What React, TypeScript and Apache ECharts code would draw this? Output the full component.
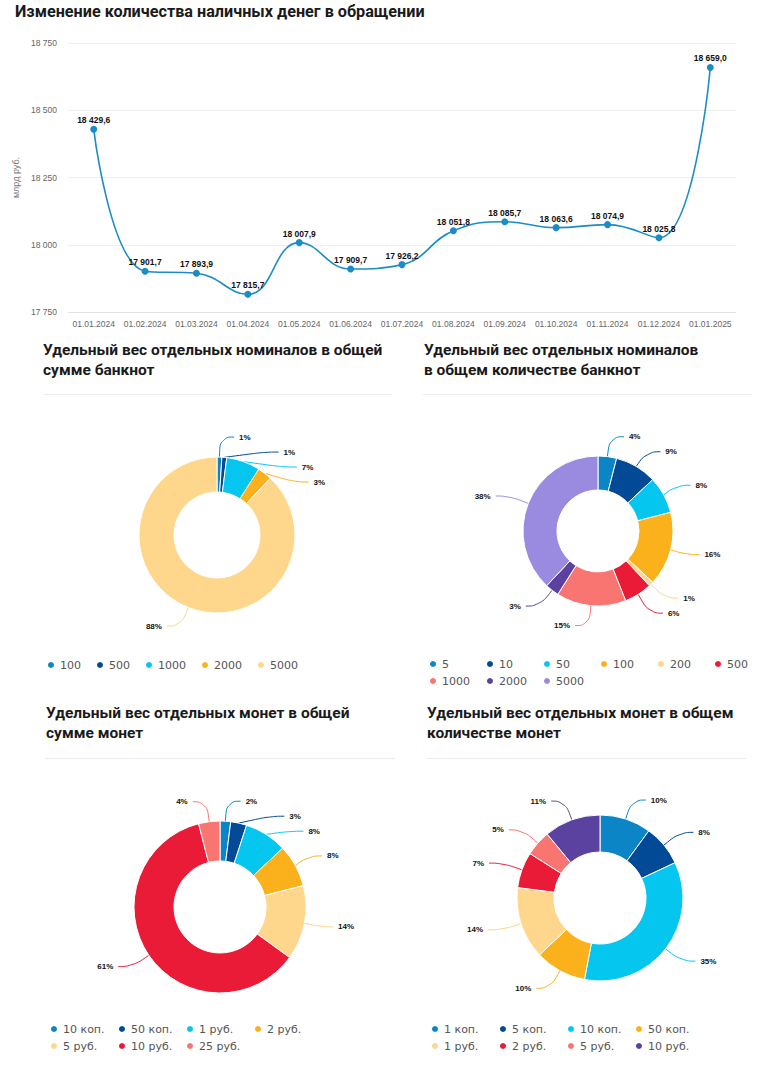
import React, { useEffect, useRef } from "react";
import * as echarts from "echarts";

// ---------- DATA ----------
const lineDates = [
  "01.01.2024", "01.02.2024", "01.03.2024", "01.04.2024", "01.05.2024", "01.06.2024",
  "01.07.2024", "01.08.2024", "01.09.2024", "01.10.2024", "01.11.2024", "01.12.2024", "01.01.2025",
];
const cashValues = [
  18429.6, 17901.7, 17893.9, 17815.7, 18007.9, 17909.7, 17926.2,
  18051.8, 18085.7, 18063.6, 18074.9, 18025.8, 18659.0,
];

const banknoteSumNames = ["100", "500", "1000", "2000", "5000"];
const banknoteSumValues = [1, 1, 7, 3, 88];

const banknoteCountNames = ["5", "10", "50", "100", "200", "500", "1000", "2000", "5000"];
const banknoteCountValues = [4, 9, 8, 16, 1, 6, 15, 3, 38];

const coinSumNames = ["10 коп.", "50 коп.", "1 руб.", "2 руб.", "5 руб.", "10 руб.", "25 руб."];
const coinSumValues = [2, 3, 8, 8, 14, 61, 4];

const coinCountNames = ["1 коп.", "5 коп.", "10 коп.", "50 коп.", "1 руб.", "2 руб.", "5 руб.", "10 руб."];
const coinCountValues = [10, 8, 35, 10, 14, 7, 5, 11];

// ---------- STYLES ----------
const C = {
  blue: "#0b85c6",
  navy: "#034a96",
  cyan: "#05c6ee",
  orange: "#fbb11b",
  sand: "#fed68c",
  red: "#e91b37",
  pink: "#f97572",
  purple: "#5c42a0",
  lavender: "#9b8be0",
};
const banknoteSumColors = [C.blue, C.navy, C.cyan, C.orange, C.sand];
const banknoteCountColors = [C.blue, C.navy, C.cyan, C.orange, C.sand, C.red, C.pink, C.purple, C.lavender];
const coinSumColors = [C.blue, C.navy, C.cyan, C.orange, C.sand, C.red, C.pink];
const coinCountColors = [C.blue, C.navy, C.cyan, C.orange, C.sand, C.red, C.pink, C.purple];

const TITLE_FONT = "Roboto, 'Open Sans', sans-serif";
const LABEL_FONT = "'Liberation Sans', Arial, sans-serif";

function fmtNum(v: number, digits: number): string {
  const s = v.toFixed(digits);
  const [i, f] = s.split(".");
  const g = i.replace(/\B(?=(\d{3})+(?!\d))/g, " ");
  return f !== undefined ? g + "," + f : g;
}

function Chart({ option, box }: { option: any; box: { left: number; top: number; width: number; height: number } }) {
  const ref = useRef<HTMLDivElement>(null);
  useEffect(() => {
    if (!ref.current) return;
    const chart = echarts.init(ref.current, undefined, { renderer: "svg" });
    chart.setOption(option);
    return () => chart.dispose();
  }, [option]);
  return (
    <div
      ref={ref}
      style={{ position: "absolute", left: box.left, top: box.top, width: box.width, height: box.height }}
    />
  );
}

const lineOption = {
  animation: false,
  graphic: [
    {
      type: "text",
      left: 15,
      top: 3,
      style: {
        text: "Изменение количества наличных денег в обращении",
        font: `bold 16.2px ${TITLE_FONT}`,
        fill: "#1a1a1a",
      },
    },
  ],
  grid: { left: 68, right: 22, top: 43, height: 269 },
  xAxis: {
    type: "category",
    data: lineDates,
    boundaryGap: true,
    axisLine: { show: true, lineStyle: { color: "#e2e2e2" } },
    axisTick: { show: false },
    axisLabel: { color: "#666", fontSize: 8.5, fontFamily: LABEL_FONT, margin: 7, interval: 0 },
  },
  yAxis: {
    type: "value",
    min: 17750,
    max: 18750,
    interval: 250,
    name: "млрд руб.",
    nameLocation: "middle",
    nameRotate: 90,
    nameGap: 45,
    nameTextStyle: { color: "#777", fontSize: 9, fontFamily: LABEL_FONT },
    axisLine: { show: false },
    axisTick: { show: false },
    splitLine: { lineStyle: { color: "#efefef" } },
    axisLabel: {
      color: "#666",
      fontSize: 8.5,
      fontFamily: LABEL_FONT,
      margin: 11,
      formatter: (v: number) => fmtNum(v, 0),
    },
  },
  series: [
    {
      type: "line",
      data: cashValues,
      smooth: 0.45,
      symbol: "circle",
      symbolSize: 7,
      lineStyle: { color: "#1b8dc6", width: 1.6 },
      itemStyle: { color: "#1b8dc6" },
      label: {
        show: true,
        position: "top",
        distance: 1,
        color: "#111",
        fontWeight: "bold",
        fontSize: 8.5,
        fontFamily: LABEL_FONT,
        formatter: (p: any) => fmtNum(p.value, 1),
      },
    },
  ],
};

function pieOption(cfg: {
  title: string;
  titleLeft: number;
  titleTop: number;
  sepY: number;
  sepX1: number;
  sepX2: number;
  center: [number, number];
  radius: [number, number];
  names: string[];
  values: number[];
  colors: string[];
  legendLeft: number;
  legendTop: number;
  legendWidth: number;
  legendTextWidth?: number;
  legendGap: number;
}) {
  return {
    animation: false,
    graphic: [
      {
        type: "text",
        left: cfg.titleLeft,
        top: cfg.titleTop,
        style: {
          text: cfg.title,
          font: `bold 15.5px ${TITLE_FONT}`,
          lineHeight: 20,
          fill: "#1a1a1a",
        },
      },
      {
        type: "line",
        shape: { x1: cfg.sepX1, y1: cfg.sepY, x2: cfg.sepX2, y2: cfg.sepY },
        style: { stroke: "#ececec", lineWidth: 1 },
      },
    ],
    legend: {
      left: cfg.legendLeft,
      top: cfg.legendTop,
      width: cfg.legendWidth,
      padding: 0,
      orient: "horizontal",
      icon: "circle",
      itemWidth: 8,
      itemHeight: 8,
      itemGap: cfg.legendGap,
      selectedMode: false,
      textStyle: {
        color: "#555",
        fontSize: 11,
        lineHeight: 14,
        fontFamily: "'DejaVu Sans', 'Noto Sans', sans-serif",
        fontWeight: "normal",
        ...(cfg.legendTextWidth ? { width: cfg.legendTextWidth, overflow: "none" } : {}),
      },
      data: cfg.names,
    },
    series: [
      {
        type: "pie",
        center: cfg.center,
        radius: cfg.radius,
        startAngle: 90,
        clockwise: true,
        avoidLabelOverlap: true,
        data: cfg.names.map((n, i) => ({ name: n, value: cfg.values[i], itemStyle: { color: cfg.colors[i] } })),
        itemStyle: { borderColor: "#fff", borderWidth: 1 },
        label: {
          show: true,
          position: "outside",
          color: "#111",
          fontWeight: "bold",
          fontSize: 8,
          fontFamily: LABEL_FONT,
          minMargin: 7,
          formatter: (p: any) => p.value + "%",
        },
        labelLine: { show: true, length: 20, length2: 14, smooth: 0.5, lineStyle: { width: 1 } },
        emphasis: { disabled: true },
      },
    ],
  };
}

const pie1 = pieOption({
  title: "Удельный вес отдельных номиналов в общей\nсумме банкнот",
  titleLeft: 43,
  titleTop: 10,
  sepY: 64.5,
  sepX1: 43,
  sepX2: 392,
  center: [217, 205],
  radius: [43, 78],
  names: banknoteSumNames,
  values: banknoteSumValues,
  colors: banknoteSumColors,
  legendLeft: 46,
  legendTop: 328,
  legendWidth: 320,
  legendGap: 14,
});

const pie2 = pieOption({
  title: "Удельный вес отдельных номиналов\nв общем количестве банкнот",
  titleLeft: 45,
  titleTop: 10,
  sepY: 64.5,
  sepX1: 44,
  sepX2: 373,
  center: [219, 201],
  radius: [41, 75],
  names: banknoteCountNames,
  values: banknoteCountValues,
  colors: banknoteCountColors,
  legendLeft: 49,
  legendTop: 327,
  legendWidth: 340,
  legendTextWidth: 40,
  legendGap: 3,
});

const pie3 = pieOption({
  title: "Удельный вес отдельных монет в общей\nсумме монет",
  titleLeft: 46,
  titleTop: 3,
  sepY: 58.5,
  sepX1: 45,
  sepX2: 395,
  center: [220, 207],
  radius: [46, 86],
  names: coinSumNames,
  values: coinSumValues,
  colors: coinSumColors,
  legendLeft: 49,
  legendTop: 322,
  legendWidth: 290,
  legendTextWidth: 51,
  legendGap: 3,
});

const pie4 = pieOption({
  title: "Удельный вес отдельных монет в общем\nколичестве монет",
  titleLeft: 48,
  titleTop: 3,
  sepY: 58.5,
  sepX1: 47,
  sepX2: 367,
  center: [221, 198],
  radius: [46, 83],
  names: coinCountNames,
  values: coinCountValues,
  colors: coinCountColors,
  legendLeft: 51,
  legendTop: 322,
  legendWidth: 290,
  legendTextWidth: 51,
  legendGap: 3,
});

export default function App() {
  return (
    <div style={{ position: "absolute", left: 0, top: 0, width: 758, height: 1074, background: "#fff" }}>
      <Chart option={lineOption} box={{ left: 0, top: 0, width: 758, height: 335 }} />
      <Chart option={pie1} box={{ left: 0, top: 330, width: 400, height: 370 }} />
      <Chart option={pie2} box={{ left: 379, top: 330, width: 379, height: 370 }} />
      <Chart option={pie3} box={{ left: 0, top: 700, width: 400, height: 374 }} />
      <Chart option={pie4} box={{ left: 379, top: 700, width: 379, height: 374 }} />
    </div>
  );
}
